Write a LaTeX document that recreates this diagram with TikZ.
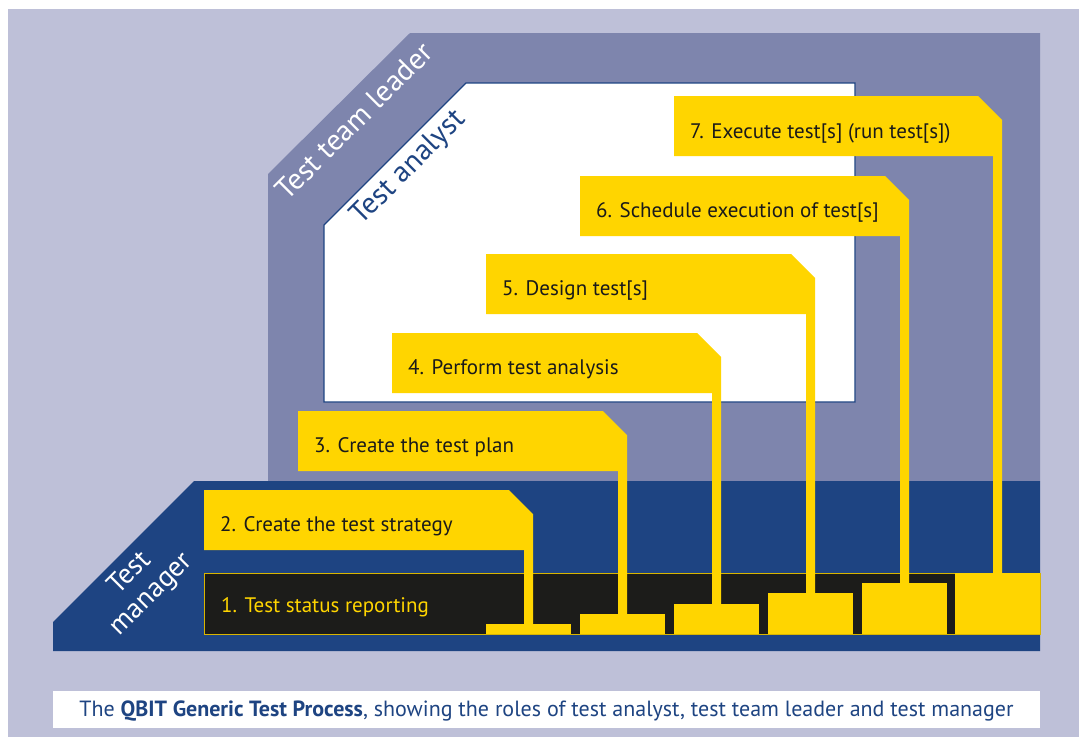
\documentclass[tikz,border=0pt]{standalone}
\usepackage{fontspec}
\setmainfont{PT Sans}
\usetikzlibrary{calc}
\definecolor{qlavender}{HTML}{BEC0D8}
\definecolor{qslate}{HTML}{7E85AD}
\definecolor{qnavy}{HTML}{1E4482}
\definecolor{qyellow}{HTML}{FFD500}
\definecolor{qblack}{HTML}{1C1C1A}
\definecolor{qink}{HTML}{1A1A1A}
\def\taskflag(#1,#2)(#3,#4){\fill[qyellow] (#1,#2) -- ({#3-24},#2) -- (#3,{#2+24}) -- (#3,#4) -- ({#3-9},#4) -- ({#3-9},{#2+60}) -- (#1,{#2+60}) -- cycle;
	\fill[qyellow] ({#3-47},#4) rectangle ({#3+38},634);}

\begin{document}
\begin{tikzpicture}[x=1pt, y=-1pt,
	tasktext/.style={anchor=base west, inner sep=0, text=qink, font=\fontsize{21}{25}\selectfont},
	roletext/.style={rotate=45, inner sep=0, align=center, font=\fontsize{29.5}{31}\selectfont}]
			%%%%% START %%%%%
			
			\useasboundingbox (0, 0) rectangle (1079, 737);
			\fill[qlavender] (8, 9) rectangle (1079, 737);
			
			\fill[qslate] (268, 481) -- (268, 174) -- (410, 33) -- (1040, 33) -- (1040, 481) -- cycle;
			\draw[fill=white, draw=qnavy, line width=1.2pt] (324, 402) -- (324, 225) -- (466, 83) -- (855, 83) -- (855, 402) -- cycle;
			
			\fill[qnavy] (53, 651) -- (53, 622) -- (194, 481) -- (1040, 481) -- (1040, 651) -- cycle;
			
			\draw[fill=qblack, draw=qyellow!85!black, line width=1pt] (204, 573) rectangle (1040, 634);
			
			\taskflag(674,96)(1002,573)
			\taskflag(580,176)(909,583)
			\taskflag(486,254)(815,593)
			\taskflag(392,333)(721,604)
			\taskflag(298,411)(627,614)
			\taskflag(204,490)(533,624)
			
			\node[tasktext, text=qyellow] (task1) at (221, 612) {1. Test status reporting};
			\node[tasktext] (task2) at (220, 531) {2. Create the test strategy};
			\node[tasktext] (task3) at (314, 452) {3. Create the test plan};
			\node[tasktext] (task4) at (408, 374) {4. Perform test analysis};
			\node[tasktext] (task5) at (502, 295) {5. Design test[s]};
			\node[tasktext] (task6) at (596, 217) {6. Schedule execution of test[s]};
			\node[tasktext] (task7) at (690, 138) {7. Execute test[s] (run test[s])};
			
			\node[roletext, text=white] (leader) at (354, 121) {Test team leader};
			\node[roletext, text=qnavy] (analyst) at (409, 168) {Test analyst};
			\node[roletext, text=white, font=\fontsize{28}{30}\selectfont] (manager) at (141, 584) {Test\\manager};
			
			\fill[white] (53, 691) rectangle (1040, 728);
			\node[anchor=base, inner sep=0, text=qnavy, font=\fontsize{22}{24}\selectfont] (caption) at (546.5, 716) {The \textbf{QBIT Generic Test Process}, showing the roles of test analyst, test team leader and test manager};
			
			%%%%% END %%%%%
\end{tikzpicture}
\end{document}
